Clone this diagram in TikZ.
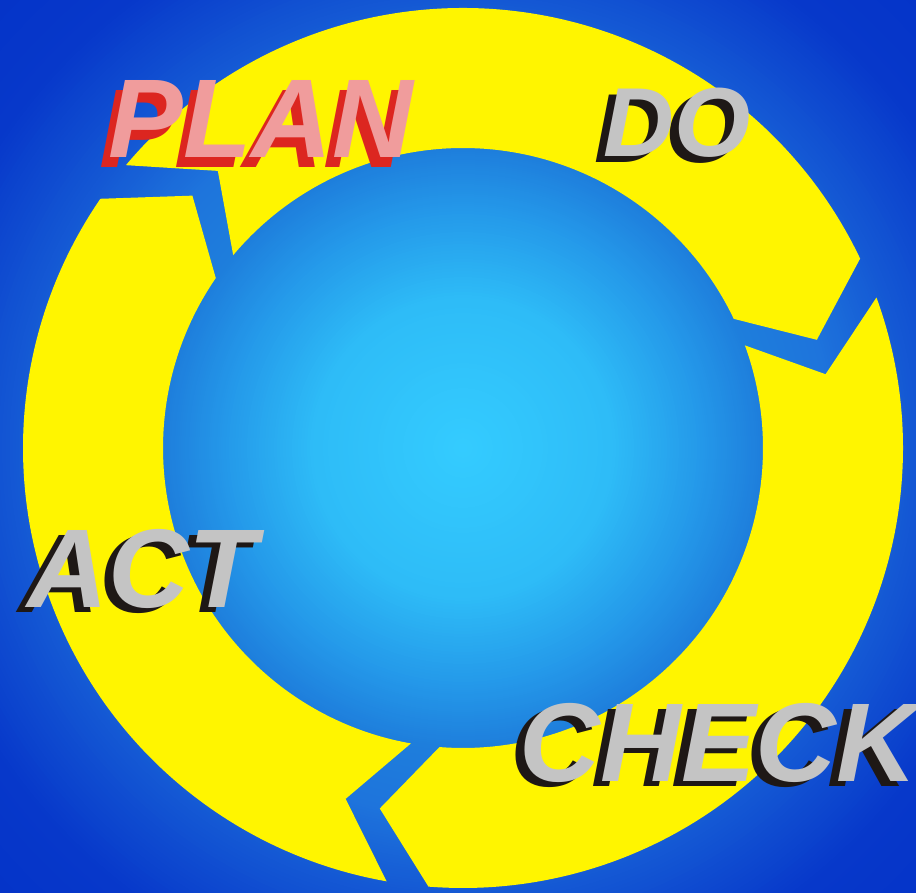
\documentclass[tikz,border=0pt]{standalone}
\usepackage{fontspec}
\setmainfont{Liberation Sans}

\definecolor{ringyellow}{RGB}{255,245,0}
\definecolor{planface}{RGB}{240,156,156}
\definecolor{planshade}{RGB}{220,38,32}
\definecolor{wordface}{RGB}{196,196,196}
\definecolor{wordshade}{RGB}{30,24,22}
\definecolor{glowA}{RGB}{52,204,255}
\definecolor{glowB}{RGB}{46,188,247}
\definecolor{glowH}{RGB}{36,152,233}
\definecolor{glowC}{RGB}{30,126,220}
\definecolor{glowD}{RGB}{30,116,220}
\definecolor{glowE}{RGB}{20,88,212}
\definecolor{glowF}{RGB}{7,56,202}
\definecolor{glowG}{RGB}{4,51,200}

% one band of the background glow: radius #1 down to #2, colour #3 to #4
\newcommand{\glowband}[4]{%
  \foreach \k in {0,...,30} {%
    \pgfmathsetmacro{\rad}{#1-(#1-#2)*\k/30}%
    \pgfmathsetmacro{\pct}{100*\k/30}%
    \fill[#4!\pct!#3] (c) circle (\rad);
  }}

\begin{document}
\begin{tikzpicture}[x=0.2mm, y=0.2mm,
    word/.style={font=\fontsize{63.7}{64}\selectfont\bfseries\itshape,
                 inner sep=0pt, anchor=base west},
    smallword/.style={word, font=\fontsize{55.8}{56}\selectfont\bfseries\itshape}]

    \useasboundingbox (0,0) rectangle (916,893);
    \clip (0,0) rectangle (916,893);

    % --- Coordinates ---
    \coordinate (c) at (463,445); % centre of the cycle

    % --- Background ---
    \glowband{660}{560}{glowG}{glowF}
    \glowband{560}{450}{glowF}{glowE}
    \glowband{450}{370}{glowE}{glowD}
    \glowband{370}{300}{glowD}{glowC}
    \glowband{300}{240}{glowC}{glowH}
    \glowband{240}{150}{glowH}{glowB}
    \glowband{150}{0}{glowB}{glowA}

    % --- Cycle arrows (three pieces, clockwise) ---
    \begin{scope}[shift={(c)}]
        \foreach \t in {140,20,-100}
            \fill[ringyellow] (\t:440)
                arc[start angle=\t, end angle=\t-114.5, radius=440]
                -- (\t-123:370) -- (\t-114.5:300)
                arc[start angle=\t-114.5, end angle=\t, radius=300]
                -- (\t-8.5:370) -- cycle;
    \end{scope}

    % --- Labels ---
    \node[word, planshade] (planshadow) at (99,725) {PLAN};
    \node[word, planface] (plan) at (108,735) {PLAN};

    \node[smallword, wordshade] (doshadow) at (594,730) {DO};
    \node[smallword, wordface] (do) at (603,736) {DO};

    \node[word, wordshade] (actshadow) at (18,280) {ACT};
    \node[word, wordface] (act) at (27,285) {ACT};

    \node[word, wordshade] (checkshadow) at (510,106) {CHECK};
    \node[word, wordface] (check) at (519,111) {CHECK};

\end{tikzpicture}
\end{document}
